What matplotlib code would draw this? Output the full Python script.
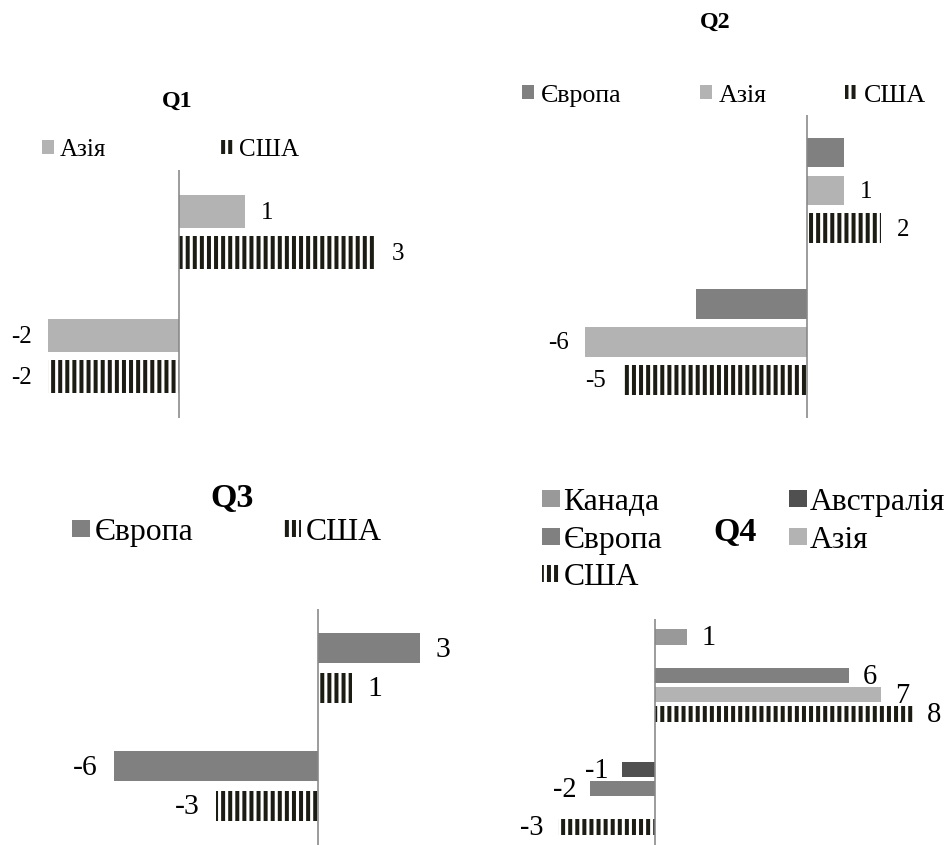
import matplotlib
matplotlib.use("Agg")
import matplotlib.pyplot as plt
import numpy as np

DPI = 85
W, H = 947, 845
PT = 72.0 / DPI  # points per pixel

plt.rcParams['font.family'] = ['Liberation Serif', 'DejaVu Serif']
plt.rcParams['hatch.linewidth'] = 4 * PT

# ---- data ----
groups = [0, 1]

q1_names = ["Азія", "США"]
q1_asia = [1, -2]
q1_usa = [3, -2]

q2_names = ["Європа", "Азія", "США"]
q2_europe = [1, -3]
q2_asia = [1, -6]
q2_usa = [2, -5]

q3_names = ["Європа", "США"]
q3_europe = [3, -6]
q3_usa = [1, -3]

q4_names = ["Канада", "Австралія", "Європа", "Азія", "США"]
q4_canada = [1, 0]
q4_australia = [0, -1]
q4_europe = [6, -2]
q4_asia = [7, 0]
q4_usa = [8, -3]

c_canada = '#999999'
c_australia = '#505050'
c_europe = '#808080'
c_asia = '#b3b3b3'
c_usa = '#1c1c14'
c_axis = '#878787'

fig = plt.figure(figsize=((W + 0.4) / DPI, (H + 0.4) / DPI), dpi=DPI)


def make_axes(axis_x, top, bottom, ppu, xlim):
    left = axis_x + xlim[0] * ppu
    width = (xlim[1] - xlim[0]) * ppu
    ax = fig.add_axes([left / W, 1 - bottom / H, width / W, (bottom - top) / H])
    ax.set_xlim(*xlim)
    ax.set_ylim(len(groups) - 0.5, -0.5)
    ax.axis('off')
    ax.axvline(0, color=c_axis, lw=1.6 * PT)
    return ax


def draw_bars(ax, series, colors, hatched, bar_h, step, label_px, labelled, gap=16):
    n = len(series)
    handles = []
    for i, vals in enumerate(series):
        ys = np.array(groups) + (i - (n - 1) / 2) * step
        if hatched[i]:
            bars = ax.barh(ys, vals, height=bar_h, facecolor='white',
                           edgecolor=colors[i], hatch='||', lw=0)
        else:
            bars = ax.barh(ys, vals, height=bar_h, facecolor=colors[i], lw=0)
        handles.append(bars)
        if not labelled[i]:
            continue
        for b, v in zip(bars, vals):
            if v == 0:
                continue
            ax.annotate(str(v), (v, b.get_y() + b.get_height() / 2),
                        xytext=(np.sign(v) * gap * PT, -1 * PT),
                        textcoords='offset points',
                        ha='left' if v > 0 else 'right', va='center',
                        fontsize=label_px * PT)
    return handles


def add_legend(ax, handles, names, x, y, font_px, hl, hh, pad, colsp, ncol, lsp=0.3):
    ax.legend(handles, names, loc='center left',
              bbox_to_anchor=(x / W, 1 - y / H), bbox_transform=fig.transFigure,
              frameon=False, borderpad=0, borderaxespad=0, ncol=ncol,
              fontsize=font_px * PT, handlelength=hl, handleheight=hh,
              handletextpad=pad, columnspacing=colsp, labelspacing=lsp)


def title(x, y, s, font_px):
    fig.text(x / W, 1 - y / H, s, ha='center', va='center',
             fontsize=font_px * PT, fontweight='bold')


# Q1
ax1 = make_axes(179, 170, 418, 65.5, (-2.6, 3.6))
h1 = draw_bars(ax1, [q1_asia, q1_usa], [c_asia, c_usa], [False, True],
               0.266, 0.33, 25, [True, True])
add_legend(ax1, h1, q1_names, 42, 150, 25, 0.48, 0.48, 0.24, 4.6, 2)
title(177, 101, "Q1", 24)

# Q2
ax2 = make_axes(807, 115, 418, 37, (-7.6, 3.6))
h2 = draw_bars(ax2, [q2_europe, q2_asia, q2_usa], [c_europe, c_asia, c_usa],
               [False, False, True], 0.197, 0.25, 25, [False, True, True], gap=16)
add_legend(ax2, h2, q2_names, 522, 96, 26, 0.46, 0.46, 0.27, 3.0, 3)
title(715, 22, "Q2", 24)

# Q3
ax3 = make_axes(317.5, 609, 845, 34, (-7.2, 4.2))
h3 = draw_bars(ax3, [q3_europe, q3_usa], [c_europe, c_usa], [False, True],
               0.254, 0.335, 29.6, [True, True])
add_legend(ax3, h3, q3_names, 72, 532, 31.7, 0.57, 0.45, 0.16, 2.8, 2)
title(232, 498, "Q3", 34)

# Q4
ax4 = make_axes(654.5, 619, 845, 32.3, (-4.1, 9.0))
h4 = draw_bars(ax4, [q4_canada, q4_australia, q4_europe, q4_asia, q4_usa],
               [c_canada, c_australia, c_europe, c_asia, c_usa],
               [False, False, False, False, True], 0.137, 0.17, 28.5,
               [True] * 5, gap=14)
order = [0, 2, 4, 1, 3]
add_legend(ax4, [h4[i] for i in order], [q4_names[i] for i in order],
           542, 540, 31.6, 0.57, 0.45, 0.1, 4.0, 2, lsp=0.27)
title(735, 532, "Q4", 34)

fig.savefig("out.png", dpi=DPI)
